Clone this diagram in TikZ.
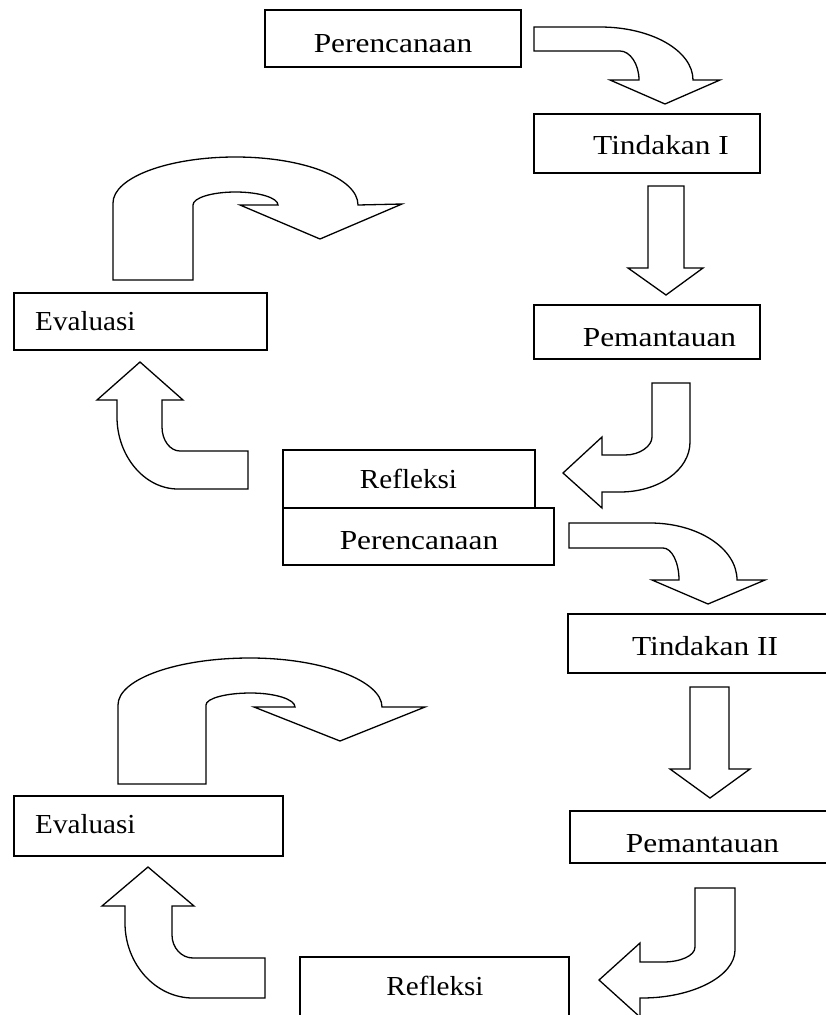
\documentclass[tikz,border=0pt]{standalone}
\usepackage{fontspec}
\setmainfont{Liberation Serif}
\newfontfamily\widefont[FakeStretch=1.14]{Liberation Serif}
\newfontfamily\narrowfont[FakeStretch=1.06]{Liberation Serif}
\usetikzlibrary{fit}
\begin{document}
\begin{tikzpicture}[x=1pt,y=-1pt,
  box/.style={draw=black, line width=1.4pt, fill=white, inner sep=0pt, rectangle},
  wlbl/.style={inner sep=0pt, font=\widefont\fontsize{27.5}{30}\selectfont},
  nlbl/.style={inner sep=0pt, font=\narrowfont\fontsize{27.5}{30}\selectfont},
  blockarrow/.style={draw=black, line width=1.3pt, fill=white, line join=miter}]
\useasboundingbox (0,0) rectangle (826,1015);
\clip (0,0) rectangle (826,1015);

% ---------- boxes ----------
\node[box, fit={(265,10) (521,67)}] (b1) {};
\node[box, fit={(534,114) (760,173)}] (b2) {};
\node[box, fit={(534,305) (760,359)}] (b3) {};
\node[box, fit={(14,293) (267,350)}] (b4) {};
\node[box, fit={(283,450) (535,508)}] (b5) {};
\node[box, fit={(283,508) (554,565)}] (b6) {};
\node[box, fit={(568,614) (832,673)}] (b7) {};
\node[box, fit={(570,811) (832,863)}] (b8) {};
\node[box, fit={(14,796) (283,856)}] (b9) {};
\node[box, fit={(300,957) (569,1025)}] (b10) {};

% ---------- labels ----------
\node[wlbl, anchor=base] (t1) at (393,52) {Perencanaan};
\node[wlbl, anchor=base] (t2) at (661,154) {Tindakan I};
\node[wlbl, anchor=base] (t3) at (659.5,346) {Pemantauan};
\node[nlbl, anchor=base west] (t4) at (35,330) {Evaluasi};
\node[nlbl, anchor=base] (t5) at (408.5,488) {Refleksi};
\node[wlbl, anchor=base] (t6) at (419,549) {Perencanaan};
\node[wlbl, anchor=base] (t7) at (705,655) {Tindakan II};
\node[wlbl, anchor=base] (t8) at (702.5,852) {Pemantauan};
\node[nlbl, anchor=base west] (t9) at (35,833) {Evaluasi};
\node[nlbl, anchor=base] (t10) at (435,995) {Refleksi};

% ---------- block arrows ----------
% Perencanaan -> Tindakan I
\draw[blockarrow] (534,27) -- (600,27) .. controls (652,27) and (693,51) .. (693,80)
  -- (720,80) -- (665,104) -- (610,80) -- (639,80)
  .. controls (639,64) and (630,51) .. (620,51) -- (534,51) -- cycle;
% Tindakan I -> Pemantauan
\draw[blockarrow] (648,186) -- (684,186) -- (684,268) -- (703,268) -- (666,295)
  -- (628,268) -- (648,268) -- cycle;
% U-turn above Evaluasi (1)
\draw[blockarrow] (113,280) -- (113,203)
  .. controls (113,177.6) and (167.9,157) .. (235.5,157)
  .. controls (303.1,157) and (358,178) .. (358,205)
  -- (402,204) -- (320,239) -- (240,205) -- (278,205)
  .. controls (278,197.8) and (259,192) .. (235.5,192)
  .. controls (212,192) and (193,197.8) .. (193,205)
  -- (193,280) -- cycle;
% up arrow to Evaluasi (1)
\draw[blockarrow] (140,362) -- (183,400) -- (162,400) -- (162,427)
  .. controls (162,440.2) and (170,451) .. (180,451)
  -- (248,451) -- (248,489) -- (178,489)
  .. controls (144.3,489) and (117,455.8) .. (117,417)
  -- (117,400) -- (97,400) -- cycle;
% Pemantauan -> Refleksi (1)
\draw[blockarrow] (652,383) -- (690,383) -- (690,442)
  .. controls (690,470) and (658.6,492) .. (620,492)
  -- (602,492) -- (602,508) -- (563,473) -- (602,437) -- (602,455) -- (625,455)
  .. controls (639.9,455) and (652,446) .. (652,437) -- cycle;
% Perencanaan -> Tindakan II
\draw[blockarrow] (569,523) -- (650,523) .. controls (698,523) and (737,548.5) .. (737,580)
  -- (765,580) -- (708,604) -- (652,580) -- (679,580)
  .. controls (679,562.3) and (671.8,548) .. (663,548) -- (569,548) -- cycle;
% Tindakan II -> Pemantauan
\draw[blockarrow] (690,687) -- (729,687) -- (729,769) -- (750,769) -- (710,798)
  -- (670,769) -- (690,769) -- cycle;
% Pemantauan -> Refleksi (2)
\draw[blockarrow] (695,888) -- (735,888) -- (735,950)
  .. controls (735,976) and (693,998) .. (642,998)
  -- (640,998) -- (640,1017) -- (599,980) -- (640,943) -- (640,962) -- (663,962)
  .. controls (680,962) and (695,956) .. (695,947) -- cycle;
% up arrow to Evaluasi (2)
\draw[blockarrow] (148,867) -- (194,906) -- (172,906) -- (172,935)
  .. controls (172,947.7) and (181.4,958) .. (193,958)
  -- (265,958) -- (265,998) -- (193,998)
  .. controls (155.5,998) and (125,964) .. (125,923)
  -- (125,906) -- (102,906) -- cycle;
% U-turn above Evaluasi (2)
\draw[blockarrow] (118,784) -- (118,705)
  .. controls (118,679) and (177.1,658) .. (250,658)
  .. controls (322.9,658) and (382,680.9) .. (382,707)
  -- (425,707) -- (340,741) -- (254,707) -- (295,707)
  .. controls (295,699.3) and (275.1,693) .. (250.5,693)
  .. controls (225.9,693) and (206,698.4) .. (206,705)
  -- (206,784) -- cycle;
\end{tikzpicture}
\end{document}
